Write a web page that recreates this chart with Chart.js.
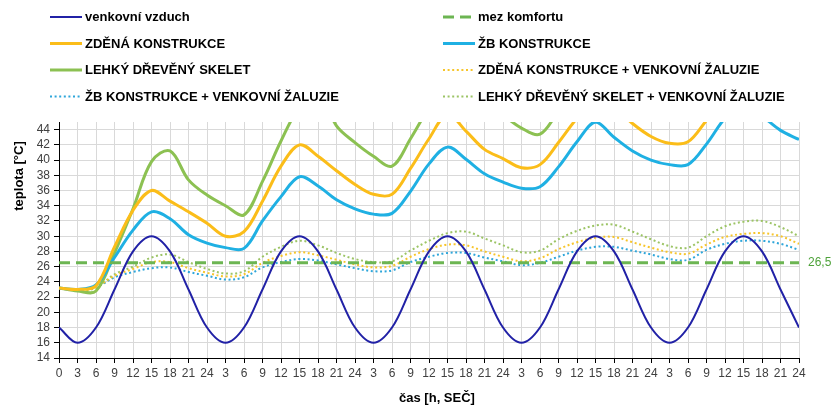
<!DOCTYPE html>
<html lang="cs">
<head>
<meta charset="utf-8">
<title>Průběh teplot</title>
<script src="https://cdn.jsdelivr.net/npm/chart.js@4.4.1/dist/chart.umd.min.js"></script>
<style>
  html, body { margin: 0; padding: 0; background: #fff; }
  #wrap { position: relative; width: 833px; height: 407px; }
  canvas { display: block; }
</style>
</head>
<body>
<div id="wrap"><canvas id="c" width="833" height="407"></canvas></div>
<script>
// time axis: hours since start, 3-hour steps over five days
const hours = [0,3,6,9,12,15,18,21,24,27,30,33,36,39,42,45,48,51,54,57,60,63,66,69,72,75,78,81,84,87,90,93,96,99,102,105,108,111,114,117,120];
const hourLabels = ['0','3','6','9','12','15','18','21','24','3','6','9','12','15','18','21','24','3','6','9','12','15','18','21','24','3','6','9','12','15','18','21','24','3','6','9','12','15','18','21','24'];
const tempTicks = [14,16,18,20,22,24,26,28,30,32,34,36,38,40,42,44];

// temperatures [°C]
const outdoorAir = [18,16,18,23,28,30,28,23, 18,16,18,23,28,30,28,23, 18,16,18,23,28,30,28,23, 18,16,18,23,28,30,28,23, 18,16,18,23,28,30,28,23, 18];
const masonry = [23.2,23.0,23.5,28.6,33.4,36.0,34.6,33.2,31.7,30.0,30.6,34.6,39.2,42.0,40.5,38.6,36.8,35.5,35.5,38.9,42.8,46.0,43.8,41.4,40.2,39.0,39.4,42.3,45.5,48.0,47.0,44.8,43.1,42.2,42.4,45.2,48.0,50.0,49.0,47.5,46.5];
const concrete = [23.2,23.0,23.6,27.2,30.8,33.2,32.3,30.2,29.1,28.5,28.4,32.0,35.2,37.8,36.6,34.8,33.6,32.9,33.0,35.9,39.5,41.7,40.1,38.2,37.1,36.3,36.5,39.1,42.4,45.0,43.0,41.2,40.0,39.4,39.4,42.1,45.5,47.5,45.8,43.9,42.7];
const timberFrame = [23.2,22.8,22.8,27.8,33.6,39.8,41.2,37.4,35.4,34.0,32.8,37.2,42.5,47.0,49.0,44.5,42.3,40.5,39.2,42.8,47.0,51.0,51.0,48.5,46.0,44.2,43.4,46.5,50.0,54.0,54.0,51.0,49.0,47.5,47.5,51.0,55.0,57.0,56.0,53.5,52.0];
const masonryBlinds = [23.2,22.9,23.3,24.8,25.7,26.6,26.6,25.8,25.2,24.7,25.0,26.5,27.4,27.9,27.5,26.9,26.3,25.9,26.1,27.3,28.3,28.9,28.8,28.0,27.3,26.7,27.1,28.3,29.2,29.8,29.9,29.2,28.5,27.9,27.7,28.9,29.9,30.3,30.4,30.0,29.0];
const concreteBlinds = [23.2,23.0,23.3,24.6,25.3,25.8,25.9,25.3,24.8,24.3,24.6,25.9,26.6,27.0,26.8,26.3,25.8,25.4,25.5,26.6,27.3,27.8,27.8,27.2,26.7,26.2,26.5,27.3,28.1,28.6,28.6,28.1,27.6,27.0,26.9,28.2,29.0,29.4,29.4,29.0,28.2];
const timberBlinds = [23.2,22.9,23.2,25.0,26.0,27.2,27.6,26.6,25.7,25.1,25.4,27.3,28.6,29.4,28.8,27.8,27.0,26.6,26.7,28.1,29.4,30.4,30.6,29.7,28.8,27.9,28.1,29.6,30.7,31.4,31.5,30.6,29.6,28.7,28.5,30.0,31.3,31.9,32.0,31.2,30.0];
const comfortLimit = 26.5;

const pts = arr => arr.map((v, i) => ({ x: hours[i], y: v }));

const solid = (label, data, color, width) => ({
  label, data: pts(data), borderColor: color, backgroundColor: color,
  borderWidth: width, pointRadius: 0, tension: 0.35, fill: false
});
const dotted = (label, data, color) => ({
  label, data: pts(data), borderColor: color, backgroundColor: color,
  borderWidth: 2, borderDash: [2, 2.6], pointRadius: 0, tension: 0.35, fill: false
});

// legend order runs row by row over two columns
const datasets = [
  solid('venkovní vzduch', outdoorAir, '#2121a6', 2),
  { label: 'mez komfortu', data: [{ x: hours[0], y: comfortLimit }, { x: hours[hours.length - 1], y: comfortLimit }],
    borderColor: '#6cb552', backgroundColor: '#6cb552', borderWidth: 3, borderDash: [11, 6], pointRadius: 0, fill: false },
  solid('ZDĚNÁ KONSTRUKCE', masonry, '#fbbd19', 3),
  solid('ŽB KONSTRUKCE', concrete, '#1fb0e3', 3),
  solid('LEHKÝ DŘEVĚNÝ SKELET', timberFrame, '#8cc152', 3),
  dotted('ZDĚNÁ KONSTRUKCE + VENKOVNÍ ŽALUZIE', masonryBlinds, '#f7c52a'),
  dotted('ŽB KONSTRUKCE + VENKOVNÍ ŽALUZIE', concreteBlinds, '#2ea6da'),
  dotted('LEHKÝ DŘEVĚNÝ SKELET + VENKOVNÍ ŽALUZIE', timberBlinds, '#9cc465')
];

// draws the two-column legend, axis titles and the comfort-limit label
const decorations = {
  id: 'decorations',
  afterDraw(chart) {
    const ctx = chart.ctx;
    ctx.save();
    const colX = [50, 443];
    const rowY = [17, 43.5, 70, 96.5];
    chart.data.datasets.forEach((ds, i) => {
      const x = colX[i % 2], y = rowY[Math.floor(i / 2)];
      const dashed = ds.borderDash && ds.borderDash[0] > 5;
      ctx.strokeStyle = ds.borderColor;
      ctx.lineWidth = dashed ? 3 : (ds.borderDash ? 2 : ds.borderWidth);
      ctx.setLineDash(ds.borderDash ? ds.borderDash : []);
      ctx.beginPath();
      const len = dashed ? 28 : 32;
      ctx.moveTo(x, y); ctx.lineTo(x + len, y); ctx.stroke();
      ctx.setLineDash([]);
      ctx.fillStyle = '#000';
      ctx.font = 'bold 13px "Liberation Sans", Arial, sans-serif';
      ctx.textBaseline = 'middle';
      ctx.textAlign = 'left';
      ctx.fillText(ds.label, x + 35, y + 0.5);
    });

    // axis titles
    ctx.font = 'bold 13px "Liberation Sans", Arial, sans-serif';
    ctx.fillStyle = '#000';
    ctx.textAlign = 'center';
    ctx.textBaseline = 'middle';
    ctx.fillText('čas [h, SEČ]', 437, 398);
    ctx.save();
    ctx.translate(19, 176);
    ctx.rotate(-Math.PI / 2);
    ctx.fillText('teplota [°C]', 0, 0);
    ctx.restore();

    // comfort limit value at the right end of the dashed line
    const yPix = chart.scales.y.getPixelForValue(comfortLimit);
    ctx.font = '12px "Liberation Sans", Arial, sans-serif';
    ctx.fillStyle = '#4ea23a';
    ctx.textAlign = 'left';
    ctx.fillText(String(comfortLimit).replace('.', ','), 808, yPix);
    ctx.restore();
  }
};

new Chart(document.getElementById('c'), {
  type: 'line',
  data: { datasets },
  options: {
    responsive: false,
    animation: false,
    layout: { padding: { top: 122, right: 34, left: 0, bottom: 0 } },
    plugins: { legend: { display: false }, tooltip: { enabled: false } },
    scales: {
      x: {
        type: 'linear', min: 0, max: 120,
        ticks: {
          stepSize: 3, autoSkip: false, maxRotation: 0, padding: 3,
          color: '#404040', font: { family: '"Liberation Sans", Arial, sans-serif', size: 12 },
          callback: (v, i) => hourLabels[i]
        },
        grid: { color: '#d9d9d9', tickColor: '#000', tickLength: 5, lineWidth: 1 },
        border: { color: '#000', width: 1 },
        afterFit: s => { s.height = 49; }
      },
      y: {
        min: 14, max: 45,
        ticks: {
          padding: 4, autoSkip: false,
          color: '#404040', font: { family: '"Liberation Sans", Arial, sans-serif', size: 12 }
        },
        afterBuildTicks: s => { s.ticks = tempTicks.map(v => ({ value: v })); },
        grid: { color: '#d9d9d9', tickColor: '#000', tickLength: 5, lineWidth: 1 },
        border: { color: '#000', width: 1 },
        afterFit: s => { s.width = 59; }
      }
    }
  },
  plugins: [decorations]
});
</script>
</body>
</html>
